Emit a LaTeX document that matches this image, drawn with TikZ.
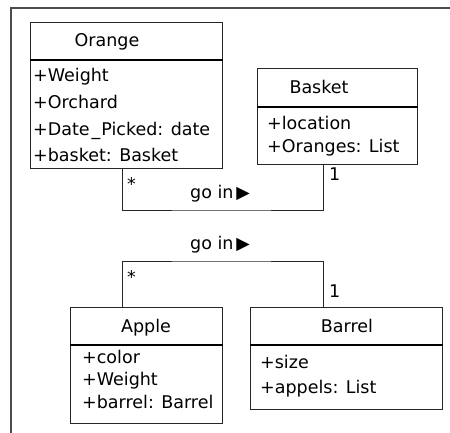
\documentclass[tikz,border=0pt]{standalone}
\usepackage{fontspec}
\setmainfont{DejaVu Sans}
\usetikzlibrary{positioning}
\tikzset{
  classbox/.style={draw=black!85, line width=0.8pt, inner sep=0pt, anchor=north west},
  classname/.style={anchor=base, inner sep=0pt},
  attrs/.style={align=left, anchor=base west, inner sep=0pt, font=\fontsize{17.5}{#1}\selectfont},
  mult/.style={inner sep=0pt, anchor=base west},
  assoc/.style={draw=black!85, line width=0.8pt},
}

\begin{document}
\begin{tikzpicture}[x=1pt, y=-1pt, font=\fontsize{17.5}{21}\selectfont]
    \useasboundingbox (0,0) rectangle (450,433);
    % frame
    \draw[line width=1.2pt, black!70] (11,433) -- (11,8) -- (450,8);

    % Orange
    \node[classbox, minimum width=192pt, minimum height=37pt] (orange) at (30,22) {};
    \node[classbox, minimum width=192pt, minimum height=108pt] (orangeAttr) at (orange.south west) {};
    \draw[line width=1.6pt] (orange.south west) -- (orange.south east);
    \node[classname] (orangeName) at (107,47) {Orange};
    % list placed by its last baseline
    \node[attrs=27pt] (orangeList) at (33,162) {+Weight\\+Orchard\\+Date\kern2pt\_\kern1pt Picked: date\\+basket: Basket};

    % Basket
    \node[classbox, minimum width=160pt, minimum height=38pt] (basket) at (257,68) {};
    \node[classbox, minimum width=160pt, minimum height=57pt] (basketAttr) at (basket.south west) {};
    \draw[line width=1.6pt] (basket.south west) -- (basket.south east);
    \node[classname] (basketName) at (319,94) {Basket};
    \node[attrs=23pt] (basketList) at (267,153) {+location\\+Oranges: List};

    % Apple
    \node[classbox, minimum width=152pt, minimum height=37pt] (apple) at (70,307) {};
    \node[classbox, minimum width=152pt, minimum height=78pt] (appleAttr) at (apple.south west) {};
    \draw[line width=1.6pt] (apple.south west) -- (apple.south east);
    \node[classname] (appleName) at (146,332) {Apple};
    \node[attrs=22.5pt] (appleList) at (82,408) {+color\\+Weight\\+barrel: Barrel};

    % Barrel
    \node[classbox, minimum width=192pt, minimum height=37pt] (barrel) at (250,307) {};
    \node[classbox, minimum width=192pt, minimum height=64pt] (barrelAttr) at (barrel.south west) {};
    \draw[line width=1.6pt] (barrel.south west) -- (barrel.south east);
    \node[classname] (barrelName) at (347,332) {Barrel};
    \node[attrs=25pt] (barrelList) at (260,393) {+size\\+appels: List};

    % orange go in basket
    \coordinate (goinTop) at (220,210);
    \draw[assoc] ([xshift=92pt]orangeAttr.south west) |- (goinTop) -| ([xshift=66pt]basketAttr.south west);
    \node[classname] (goinTopLabel) at (220,198) {go in\,▶};
    \node[mult] (orangeMult) at (127,190) {*};
    \node[mult] (basketMult) at (329,180) {1};

    % apple go in barrel
    \coordinate (goinBot) at (220,261);
    \draw[assoc] ([xshift=52pt]apple.north west) |- (goinBot) -| ([xshift=73pt]barrel.north west);
    \node[classname] (goinBotLabel) at (220,249) {go in\,▶};
    \node[mult] (appleMult) at (127,283) {*};
    \node[mult] (barrelMult) at (329,297) {1};
\end{tikzpicture}
\end{document}
